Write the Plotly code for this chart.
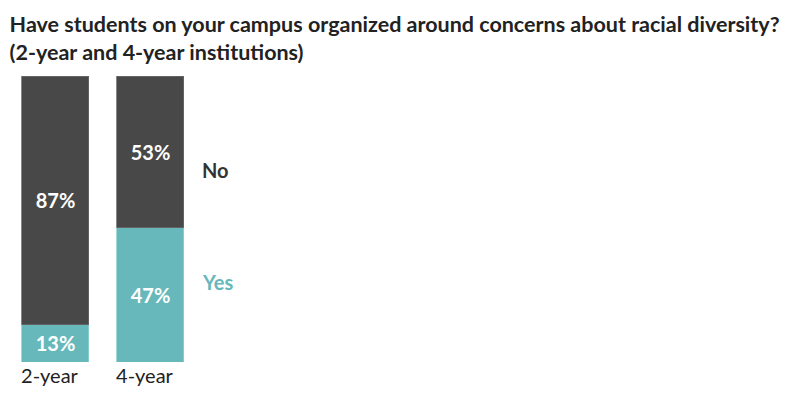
import plotly.graph_objects as go

# Data
categories = ['2-year', '4-year']
yes_values = [13, 47]
no_values = [87, 53]

title_text = ('Have students on your campus organized around concerns about racial diversity?'
              '<br>(2-year and 4-year institutions)')

dark = '#484848'
teal = '#67b8ba'
font_family = 'Lato'

fig = go.Figure()

fig.add_trace(go.Bar(
    x=categories, y=yes_values, name='Yes',
    marker=dict(color=teal, line=dict(color='#8ccfd0', width=0.8)),
    text=[f'{v}%' for v in yes_values], textposition='inside',
    insidetextanchor='middle', textangle=0,
    textfont=dict(family=font_family, size=20, color='white', weight='bold'),
    width=0.705,
))
fig.add_trace(go.Bar(
    x=categories, y=no_values, name='No',
    marker=dict(color=dark, line=dict(color='#6a6a6a', width=0.8)),
    text=[f'{v}%' for v in no_values], textposition='inside',
    insidetextanchor='middle', textangle=0,
    textfont=dict(family=font_family, size=20, color='white', weight='bold'),
    width=0.705,
))

# series labels to the right of the bars
fig.add_annotation(text='No', xref='paper', yref='paper', x=0.25, y=0.67,
                   xanchor='left', yanchor='middle', showarrow=False,
                   font=dict(family=font_family, size=20, color='#333333', weight='bold'))
fig.add_annotation(text='Yes', xref='paper', yref='paper', x=0.25, y=0.28,
                   xanchor='left', yanchor='middle', showarrow=False,
                   font=dict(family=font_family, size=20, color=teal, weight='bold'))

fig.update_layout(
    barmode='stack',
    width=800, height=404,
    plot_bgcolor='white',
    paper_bgcolor='white',
    showlegend=False,
    font=dict(family=font_family, size=20, color='#222222'),
    title=dict(text=title_text, x=0.012, xanchor='left', y=0.92, yanchor='top',
               font=dict(family=font_family, size=21.5, color='#222222', weight='bold')),
    margin=dict(l=0, r=0, t=76, b=42),
    xaxis=dict(range=[-0.584, 7.837], showgrid=False, zeroline=False, showline=False,
               ticks='', ticklabelshift=-6,
               tickfont=dict(family=font_family, size=20, color='#222222')),
    yaxis=dict(range=[0, 100], visible=False),
)

# drop the default page margin so the 800x404 figure fills the window
fig.write_html('out.html', config={'displayModeBar': False},
               post_script="document.body.style.margin='0';")
